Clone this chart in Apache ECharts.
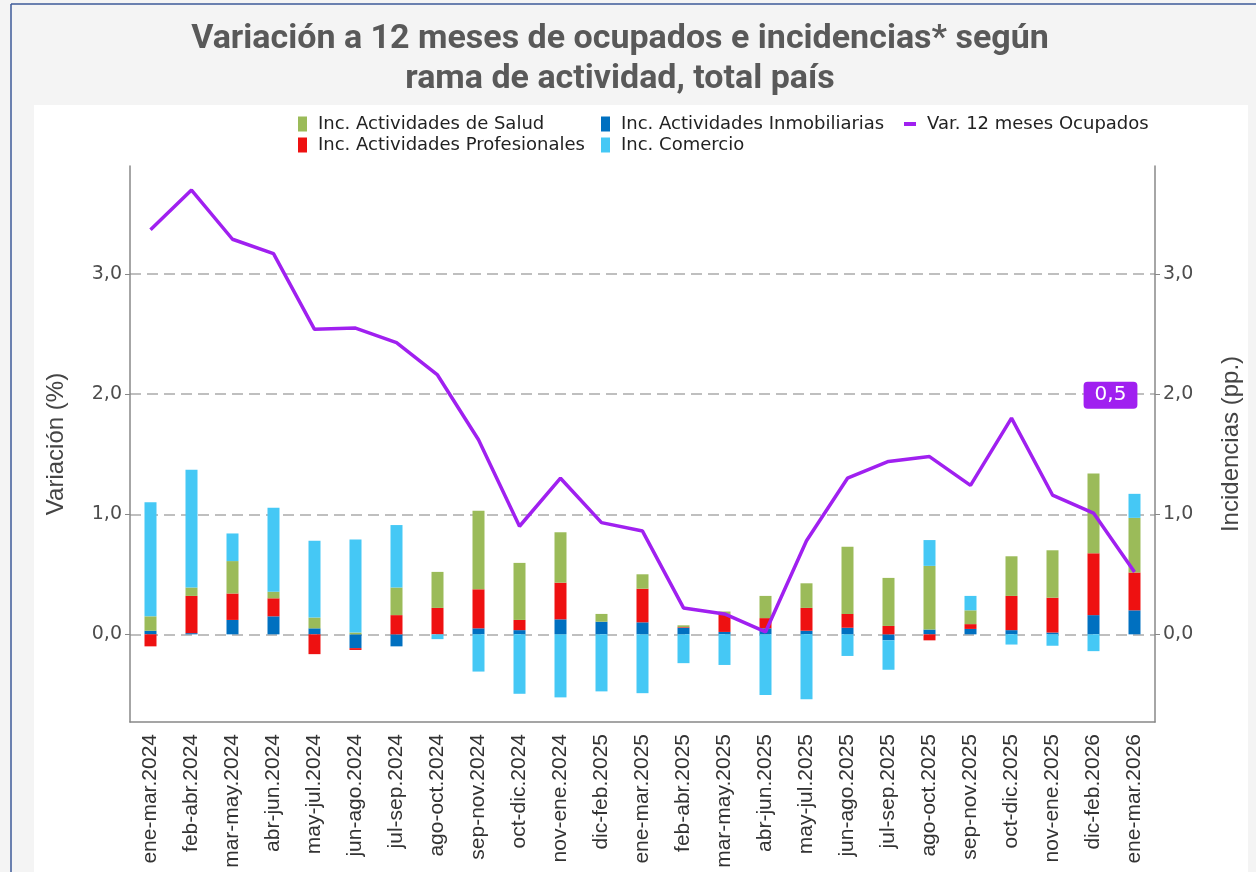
<!DOCTYPE html>
<html>
<head>
<meta charset="utf-8">
<script src="https://cdn.jsdelivr.net/npm/echarts@6/dist/echarts.min.js"></script>
<style>
html,body{margin:0;padding:0;background:#f4f4f4;}
#main{width:1256px;height:872px;}
</style>
</head>
<body>
<div id="main"></div>
<script>
// periodos (trimestres móviles)
var cats=['ene-mar.2024','feb-abr.2024','mar-may.2024','abr-jun.2024','may-jul.2024','jun-ago.2024','jul-sep.2024','ago-oct.2024','sep-nov.2024','oct-dic.2024','nov-ene.2024','dic-feb.2025','ene-mar.2025','feb-abr.2025','mar-may.2025','abr-jun.2025','may-jul.2025','jun-ago.2025','jul-sep.2025','ago-oct.2025','sep-nov.2025','oct-dic.2025','nov-ene.2025','dic-feb.2026','ene-mar.2026'];
// variación 12 meses ocupados (%)
var ocupados=[3.37,3.70,3.29,3.17,2.54,2.55,2.43,2.16,1.62,0.90,1.30,0.93,0.86,0.22,0.17,0.02,0.78,1.30,1.44,1.48,1.24,1.80,1.16,1.01,0.52];
// incidencias (pp.)
var inmob=[0.03,0.01,0.12,0.15,0.05,-0.115,-0.10,0,0.05,0.035,0.125,0.105,0.10,0.055,0.02,0.05,0.03,0.055,-0.05,0.04,0.045,0.035,0.015,0.16,0.20];
var prof=[-0.10,0.31,0.22,0.15,-0.165,-0.015,0.16,0.22,0.325,0.085,0.305,0,0.28,0.005,0.145,0.085,0.19,0.115,0.07,-0.05,0.04,0.285,0.29,0.515,0.315];
var salud=[0.12,0.07,0.27,0.055,0.09,0.015,0.23,0.30,0.655,0.475,0.42,0.065,0.12,0.015,0.025,0.185,0.205,0.56,0.40,0.53,0.115,0.33,0.395,0.665,0.455];
var comercio=[0.95,0.98,0.23,0.70,0.64,0.775,0.52,-0.04,-0.31,-0.495,-0.525,-0.475,-0.49,-0.24,-0.255,-0.505,-0.54,-0.18,-0.245,0.215,0.12,-0.085,-0.095,-0.14,0.20];
var yTicks=[0,1,2,3];

function fmt(v){ return v.toFixed(1).replace('.',','); }

var myChart=echarts.init(document.getElementById('main'));
var lastVal=ocupados[ocupados.length-1];
var legendText={fontFamily:'DejaVu Sans',fontSize:18,color:'#222',padding:[0,0,0,6]};
var yAxisBase={
	type:'value',min:-0.73,max:3.9,
	nameLocation:'middle',nameRotate:90,
	nameTextStyle:{fontFamily:'Liberation Sans',fontSize:24,color:'#444'},
	axisLine:{show:true,lineStyle:{color:'#888',width:1.5}},
	axisTick:{show:true,length:5,customValues:yTicks,lineStyle:{color:'#888'}},
	axisLabel:{customValues:yTicks,formatter:fmt,fontFamily:'DejaVu Sans',fontSize:19,color:'#4d4d4d'}
};
var option={
	backgroundColor:'#f4f4f4',
	title:{
		text:'Variación a 12 meses de ocupados e incidencias* según\nrama de actividad, total país',
		left:615,top:14,textAlign:'center',
		textStyle:{fontFamily:'Roboto',fontWeight:'bold',fontSize:34,lineHeight:40,color:'#595959'}
	},
	graphic:[
		{type:'rect',shape:{x:34,y:105,width:1214,height:767},style:{fill:'#fff'},z:-10},
		{type:'line',shape:{x1:11,y1:4,x2:1256,y2:4},style:{stroke:'#3d5a99',lineWidth:1.5},z:-10},
		{type:'line',shape:{x1:11,y1:4,x2:11,y2:872},style:{stroke:'#3d5a99',lineWidth:1.5},z:-10}
	],
	legend:[
		{left:298,top:115,padding:0,orient:'vertical',itemGap:3,icon:'rect',itemWidth:9,itemHeight:15,textStyle:legendText,
			data:['Inc. Actividades de Salud','Inc. Actividades Profesionales']},
		{left:601,top:115,padding:0,orient:'vertical',itemGap:3,icon:'rect',itemWidth:9,itemHeight:15,textStyle:legendText,
			data:['Inc. Actividades Inmobiliarias','Inc. Comercio']},
		{left:904,top:115,padding:0,orient:'vertical',icon:'rect',itemWidth:12,itemHeight:4,textStyle:legendText,
			data:['Var. 12 meses Ocupados']}
	],
	grid:{left:130,right:101,top:166,bottom:150},
	xAxis:{
		type:'category',data:cats,
		axisLine:{onZero:false,lineStyle:{color:'#888',width:1.5}},
		axisTick:{alignWithLabel:true,length:6,lineStyle:{color:'#888'}},
		axisLabel:{rotate:90,interval:0,margin:12,fontFamily:'Liberation Sans',fontSize:21,color:'#333'}
	},
	yAxis:[
		echarts.util.merge({name:'Variación (%)',nameGap:62,position:'left',
			splitLine:{show:true,lineStyle:{color:'#aaa',type:[11,6],width:1.5}}},yAxisBase,false),
		echarts.util.merge({name:'Incidencias (pp.)',nameGap:64,position:'right',
			splitLine:{show:false}},yAxisBase,false)
	],
	series:[
		{name:'Inc. Actividades Inmobiliarias',type:'bar',stack:'inc',yAxisIndex:1,barWidth:12,data:inmob,itemStyle:{color:'#0070c0'}},
		{name:'Inc. Actividades Profesionales',type:'bar',stack:'inc',yAxisIndex:1,barWidth:12,data:prof,itemStyle:{color:'#ee1111'}},
		{name:'Inc. Actividades de Salud',type:'bar',stack:'inc',yAxisIndex:1,barWidth:12,data:salud,itemStyle:{color:'#9bbb59'}},
		{name:'Inc. Comercio',type:'bar',stack:'inc',yAxisIndex:1,barWidth:12,data:comercio,itemStyle:{color:'#45c8f5'}},
		{name:'Var. 12 meses Ocupados',type:'line',yAxisIndex:0,data:ocupados,symbol:'none',z:5,
			lineStyle:{color:'#a020f0',width:3.5},itemStyle:{color:'#a020f0'},
			markPoint:{symbol:'circle',symbolSize:0,
				data:[{coord:[cats[cats.length-1],2.0],value:lastVal}],
				label:{show:true,formatter:function(p){return fmt(p.value);},offset:[-24,1],
					backgroundColor:'#a020f0',borderRadius:4,padding:[4,11,3,11],
					fontFamily:'DejaVu Sans',fontSize:20,color:'#fff'}}}
	]
};
myChart.setOption(option);
</script>
</body>
</html>
